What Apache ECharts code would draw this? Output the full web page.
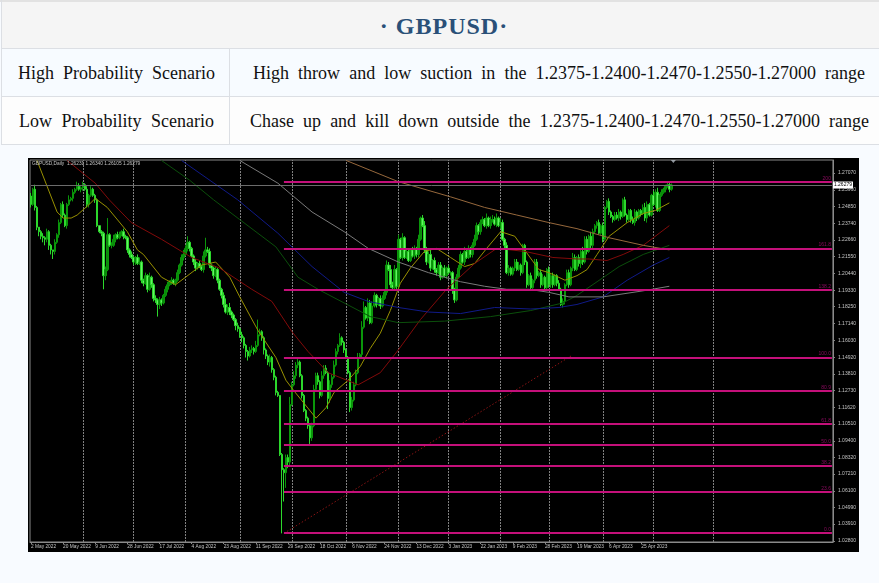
<!DOCTYPE html>
<html><head><meta charset="utf-8">
<script src="https://cdn.jsdelivr.net/npm/echarts@6/dist/echarts.min.js"></script>
<style>
html,body{margin:0;padding:0;width:879px;height:583px;overflow:hidden;background:#f8fbff;font-family:"Liberation Serif",serif;color:#111}
.b{position:absolute;box-sizing:border-box}
.line{position:absolute;background:#dcdfe4}
.j{position:absolute;font-size:18px;line-height:20px;text-align:justify;text-align-last:justify;white-space:normal}
#title{position:absolute;left:0;width:888px;top:11px;text-align:center;font-size:24px;line-height:30px;font-weight:bold;color:#2a5078;letter-spacing:1px}
#chart{position:absolute;left:28px;top:158px;width:831px;height:394px;background:#000}
</style></head><body>
<div class="b" style="left:0;top:0;width:879px;height:2px;background:#e2e2e2"></div>
<div class="b" style="left:2px;top:2px;width:877px;height:46px;background:#f5f5f5"></div>
<div class="b" style="left:2px;top:49px;width:877px;height:47px;background:#f7fbff"></div>
<div class="b" style="left:2px;top:97px;width:877px;height:47px;background:#fdfdfd"></div>
<div class="line" style="left:1px;top:0;width:1px;height:145px"></div>
<div class="line" style="left:1px;top:48px;width:878px;height:1px"></div>
<div class="line" style="left:1px;top:96px;width:878px;height:1px"></div>
<div class="line" style="left:1px;top:144px;width:878px;height:1px"></div>
<div class="line" style="left:229px;top:48px;width:1px;height:97px"></div>
<div id="title">· GBPUSD·</div>
<div class="j" style="left:18px;top:63px;width:197px">High Probability Scenario</div>
<div class="j" style="left:253px;top:63px;width:612px">High throw and low suction in the 1.2375-1.2400-1.2470-1.2550-1.27000 range</div>
<div class="j" style="left:19px;top:111px;width:195px">Low Probability Scenario</div>
<div class="j" style="left:250px;top:111px;width:619px">Chase up and kill down outside the 1.2375-1.2400-1.2470-1.2550-1.27000 range</div>
<div id="chart"></div>
<script>
const chartInfo = 'GBPUSD,Daily  1.26231 1.26340 1.26105 1.26279';
const dateLabels = ['2 May 2022','20 May 2022','9 Jun 2022','28 Jun 2022','17 Jul 2022','4 Aug 2022','23 Aug 2022','11 Sep 2022','29 Sep 2022','18 Oct 2022','6 Nov 2022','24 Nov 2022','13 Dec 2022','3 Jan 2023','22 Jan 2023','9 Feb 2023','28 Feb 2023','19 Mar 2023','6 Apr 2023','25 Apr 2023'];
const priceTicks = [1.0280,1.0391,1.0499,1.0610,1.0721,1.0832,1.0940,1.1051,1.1162,1.1273,1.1381,1.1492,1.1603,1.1714,1.1825,1.1933,1.2044,1.2155,1.2266,1.2374,1.2485,1.2596,1.2707];
const firstOpen = 1.2555;
const closes = [
1.250,1.260,1.248,1.235,1.232,1.229,1.228,1.227,1.232,1.223,
1.220,1.219,1.225,1.230,1.238,1.250,1.243,1.236,1.250,1.253,
1.254,1.258,1.260,1.262,1.260,1.261,1.263,1.260,1.250,1.256,
1.260,1.256,1.253,1.236,1.232,1.231,1.203,1.207,1.230,1.223,
1.223,1.227,1.230,1.228,1.230,1.232,1.229,1.228,1.220,1.217,
1.215,1.212,1.215,1.211,1.212,1.200,1.198,1.203,1.194,1.202,
1.197,1.188,1.187,1.184,1.187,1.185,1.190,1.194,1.197,1.199,
1.200,1.198,1.200,1.205,1.210,1.215,1.217,1.221,1.225,1.221,
1.216,1.212,1.208,1.211,1.209,1.207,1.216,1.220,1.219,1.210,
1.208,1.203,1.207,1.200,1.194,1.190,1.184,1.179,1.182,1.179,
1.177,1.174,1.170,1.168,1.164,1.162,1.157,1.153,1.150,1.154,
1.155,1.153,1.157,1.164,1.166,1.162,1.154,1.150,1.146,1.149,
1.141,1.136,1.126,1.124,1.085,1.075,1.073,1.083,1.080,1.118,
1.131,1.137,1.144,1.146,1.137,1.124,1.114,1.109,1.104,1.096,
1.104,1.128,1.137,1.133,1.124,1.137,1.142,1.139,1.122,1.131,
1.136,1.144,1.153,1.157,1.162,1.159,1.154,1.149,1.139,1.116,
1.121,1.131,1.139,1.149,1.151,1.169,1.182,1.175,1.185,1.172,
1.183,1.190,1.184,1.188,1.183,1.188,1.192,1.210,1.207,1.197,
1.195,1.207,1.196,1.227,1.215,1.228,1.215,1.219,1.213,1.220,
1.216,1.221,1.217,1.227,1.241,1.236,1.220,1.212,1.217,1.208,
1.213,1.207,1.205,1.210,1.202,1.208,1.203,1.208,1.205,1.205,
1.194,1.187,1.202,1.208,1.217,1.212,1.219,1.215,1.221,1.217,
1.223,1.227,1.236,1.232,1.238,1.240,1.236,1.241,1.236,1.240,
1.240,1.237,1.241,1.236,1.238,1.227,1.223,1.205,1.208,1.204,
1.208,1.212,1.207,1.210,1.205,1.223,1.212,1.197,1.203,1.195,
1.200,1.212,1.203,1.205,1.197,1.202,1.195,1.207,1.197,1.203,
1.197,1.203,1.198,1.194,1.184,1.186,1.197,1.205,1.197,1.208,
1.215,1.207,1.215,1.211,1.219,1.212,1.227,1.219,1.229,1.223,
1.232,1.236,1.238,1.231,1.236,1.227,1.248,1.252,1.245,1.242,
1.240,1.243,1.241,1.245,1.242,1.253,1.243,1.240,1.246,1.240,
1.238,1.245,1.241,1.246,1.244,1.248,1.241,1.250,1.243,1.256,
1.250,1.258,1.246,1.256,1.258,1.260,1.262,1.263,1.260,1.2628];
const upperWick = [
2,1,3,1,0,1,2,1,2,1, 1,0,2,1,2,1,2,1,1,3,
1,2,1,3,2,1,2,1,2,1, 2,1,1,1,0,1,1,2,11,1,
2,3,1,2,2,1,2,1,1,1, 2,1,1,2,3,1,1,2,1,3,
1,1,2,1,2,1,1,2,2,1, 2,1,1,2,1,2,3,2,4,1,
1,1,2,1,2,1,3,8,2,2, 1,1,2,1,1,1,2,4,2,3,
1,1,1,2,1,2,1,1,1,2, 2,1,3,10,2,1,1,1,1,2,
1,1,1,1,0,1,1,2,2,5, 2,3,2,3,1,1,1,1,1,1,
2,3,2,2,1,3,2,2,1,3, 2,3,2,1,3,1,1,1,1,1,
2,2,2,3,1,4,4,1,3,2, 3,2,1,1,2,2,2,3,2,3,
2,3,1,3,1,3,1,2,2,1, 2,2,1,3,1,2,3,2,2,3,
1,2,1,2,2,1,2,1,2,1, 1,1,2,2,2,1,3,1,2,1,
2,3,2,1,2,2,1,3,1,2, 3,2,3,1,3,2,1,2,2,1,
1,2,2,2,1,1,1,1,1,2, 1,2,2,1,2,2,1,1,2,1,
2,1,1,2,1,2,1,2,2,1, 3,2,1,2,1,3,2,2,1,3,
2,1,1,2,1,2,1,1,2,1, 1,2,2,2,1,1,2,1,1,1,
2,2,1,1,1,2,3,2,1,1, 3,2,3,1,2,1,1,2,2,1];
const lowerWick = [
2,1,2,2,3,2,3,4,2,3, 3,5,2,1,2,1,2,1,2,1,
1,2,1,1,1,2,2,1,2,2, 1,1,2,1,1,2,9,3,1,1,
2,1,2,1,1,1,2,1,2,2, 1,2,2,1,1,2,2,1,2,1,
2,2,2,8,3,2,1,1,2,1, 2,1,2,1,1,1,2,1,2,2,
1,2,2,1,1,1,2,1,1,2, 2,2,1,2,1,2,2,1,2,2,
2,1,3,2,2,3,2,4,3,1, 2,2,1,1,1,2,3,2,2,3,
2,2,2,1,1,42,19,10,4,2, 1,1,2,2,1,2,1,2,2,4,
2,1,1,2,2,1,2,1,7,3, 2,1,1,2,1,2,2,1,1,3,
2,1,1,1,1,2,1,1,2,1, 1,1,2,1,2,1,1,2,1,2,
2,1,2,2,1,2,1,1,1,1, 1,2,2,2,1,1,2,2,1,2,
1,2,2,1,2,1,1,2,1,2, 3,2,1,1,1,1,2,1,1,2,
2,1,1,2,2,1,1,2,1,2, 2,1,2,1,2,1,2,1,2,1,
1,2,1,1,2,1,2,2,1,2, 2,2,2,1,2,1,2,2,2,2,
2,1,2,1,1,2,2,1,2,1, 2,1,1,2,3,2,1,2,1,2,
2,1,2,1,1,2,1,1,2,1, 2,1,1,2,2,1,1,2,1,2,
1,2,2,1,2,1,2,3,1,1, 1,2,1,1,1,1,2,1,2,1];
const slotCount = 400;
const fibLevels = ['0.0','23.6','38.2','50.0','61.8','80.9','100.0','138.2','161.8','200'];
const fibPrices = [1.0331,1.0605,1.0775,1.0913,1.1050,1.1271,1.1491,1.1935,1.2210,1.2650];
const fibStartBar = 126, fibEndBar = 399;
const monthStartBars = [26,51,77,104,130,157,183,208,234,258,285,310,340];
const lastPrice = 1.26279;
const maYellow = [[3,1.279],[13,1.245],[16,1.241],[20,1.241],[23,1.243],[29,1.250],[32,1.254],[38,1.248],[48,1.232],[53,1.220],[56,1.217],[65,1.202],[72,1.197],[77,1.202],[85,1.210],[92,1.212],[99,1.202],[104,1.189],[113,1.167],[122,1.149],[127,1.134],[131,1.127],[142,1.109],[147,1.116],[151,1.126],[158,1.134],[164,1.143],[169,1.155],[174,1.165],[179,1.180],[184,1.198],[189,1.208],[196,1.219],[202,1.221],[209,1.215],[216,1.209],[221,1.211],[227,1.221],[234,1.232],[241,1.229],[247,1.218],[253,1.207],[258,1.205],[266,1.200],[272,1.203],[277,1.207],[282,1.217],[288,1.229],[297,1.238],[305,1.244],[311,1.246],[318,1.251]];
const maRed = [[18,1.279],[32,1.264],[39,1.253],[50,1.238],[65,1.227],[80,1.215],[94,1.208],[110,1.194],[120,1.186],[130,1.166],[138,1.153],[148,1.139],[163,1.131],[174,1.139],[183,1.154],[194,1.174],[207,1.194],[221,1.211],[232,1.221],[246,1.219],[260,1.215],[272,1.214],[278,1.214],[287,1.213],[295,1.217],[305,1.223],[313,1.231],[318,1.236]];
const maGreen = [[65,1.279],[79,1.266],[91,1.253],[104,1.240],[122,1.222],[133,1.202],[143,1.194],[156,1.185],[169,1.176],[183,1.172],[206,1.173],[229,1.176],[249,1.180],[265,1.185],[272,1.190],[282,1.199],[293,1.209],[305,1.217],[318,1.223]];
const maBlue = [[75,1.279],[103,1.253],[123,1.231],[140,1.209],[156,1.192],[168,1.186],[183,1.182],[198,1.179],[214,1.178],[231,1.182],[249,1.181],[263,1.182],[272,1.184],[285,1.189],[297,1.200],[310,1.210],[318,1.215]];
const maGray = [[104,1.279],[123,1.264],[140,1.245],[156,1.232],[168,1.221],[183,1.212],[198,1.205],[214,1.199],[226,1.196],[237,1.194],[248,1.194],[258,1.192],[268,1.189],[285,1.189],[305,1.193],[318,1.196]];
const maOrange = [[157,1.279],[183,1.265],[209,1.255],[226,1.248],[242,1.243],[258,1.238],[272,1.234],[288,1.228],[305,1.223],[318,1.220]];
const trendLine = [[126,1.033],[269,1.150]];
const lastBarMarker = [[320,1.2783]];

const categories = [];
for (let i = 0; i < slotCount; i++) categories.push(i % 16 === 0 && dateLabels[i / 16] ? dateLabels[i / 16] : '');
const candles = closes.map((c, i) => {
  const o = i ? closes[i - 1] : firstOpen;
  return [o, c, Math.min(o, c) - lowerWick[i] / 1000, Math.max(o, c) + upperWick[i] / 1000];
});
const showTick = (i) => categories[i] !== '';
const maLine = (data, color, width) => ({type:'line',data,symbol:'none',smooth:false,z:3,silent:true,lineStyle:{color,width:width||1}});
const axisGray = '#8a8a8a', txt = '#c4c4c4', txtFont = 'Liberation Sans';

const chart = echarts.init(document.getElementById('chart'), null, {renderer:'canvas'});
chart.setOption({
  animation:false,
  backgroundColor:'#000',
  title:{text:chartInfo,left:4,top:3,padding:0,textStyle:{color:txt,fontSize:4.8,fontWeight:'normal',fontFamily:txtFont}},
  grid:{left:2,top:2,width:808,height:382,show:true,backgroundColor:'#000',borderColor:axisGray,borderWidth:1},
  xAxis:{type:'category',data:categories,boundaryGap:true,
    axisLine:{lineStyle:{color:axisGray}},
    axisTick:{show:true,alignWithLabel:true,interval:showTick,length:2,lineStyle:{color:axisGray}},
    axisLabel:{interval:showTick,align:'left',color:txt,fontSize:4.8,fontFamily:txtFont,margin:2},
    splitLine:{show:false}},
  yAxis:{type:'value',position:'right',min:1.0273,max:1.2793,scale:true,
    axisLine:{show:true,lineStyle:{color:axisGray}},
    axisTick:{show:true,length:2,lineStyle:{color:axisGray},customValues:priceTicks},
    axisLabel:{color:txt,fontSize:5,fontFamily:txtFont,margin:5,customValues:priceTicks,formatter:(v)=>v.toFixed(5)},
    splitLine:{show:false}},
  series:[
    {type:'line',data:[],symbol:'none',z:1,silent:true,
     markLine:{silent:true,symbol:'none',animation:false,z:1,label:{show:false},
       lineStyle:{color:'#808080',type:[2,1],width:1},
       data:monthStartBars.map(b=>({xAxis:b}))}},
    {type:'candlestick',data:candles,barWidth:2,z:2,silent:true,
     itemStyle:{color:'#0a8a0a',color0:'#66f066',borderColor:'#0a960a',borderColor0:'#2cd82c',borderWidth:1}},
    maLine(maYellow,'#989000'),
    maLine(maRed,'#820a0a'),
    maLine(maGreen,'#0b4f0b'),
    maLine(maBlue,'#101a88'),
    maLine(maGray,'#7a7a7a'),
    maLine(maOrange,'#96683c'),
    {type:'line',data:trendLine,symbol:'none',z:4,silent:true,lineStyle:{color:'#8a1414',type:[1.5,2],width:1}},
    {type:'line',data:[],symbol:'none',z:5,silent:true,
     markLine:{silent:true,symbol:'none',animation:false,z:4,
       data:[[{coord:[0,lastPrice],lineStyle:{color:'#6c6c6c',width:1,type:'solid'},
         label:{show:true,position:'end',distance:1,formatter:lastPrice.toFixed(5),backgroundColor:'#fff',color:'#000',fontSize:5,fontFamily:txtFont,padding:[1,1,1,1]}},{coord:[399,lastPrice]}]]}},
    {type:'line',data:[],symbol:'none',z:6,silent:true,
     markLine:{silent:true,symbol:'none',animation:false,z:6,
       data:fibPrices.map((p,i)=>[
         {coord:[fibStartBar,p],lineStyle:{color:'#c4107a',width:2,type:'solid'},
          label:{show:true,position:'insideEndTop',distance:1,formatter:fibLevels[i],color:'#8a0a5e',fontSize:5,fontFamily:txtFont}},
         {coord:[fibEndBar,p]}])}},
    {type:'scatter',data:lastBarMarker,symbol:'triangle',symbolRotate:180,symbolSize:[5,3],z:6,silent:true,itemStyle:{color:'#b0b8c0'}}
  ]
});
</script>
</body></html>
